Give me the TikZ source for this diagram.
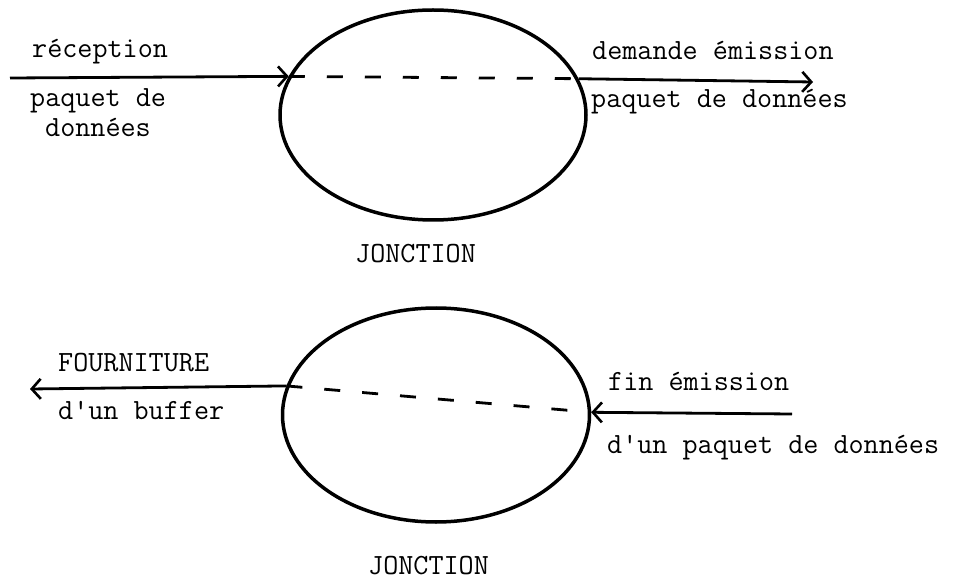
\documentclass[tikz,border=0pt]{standalone}
\usepackage{fontspec}
\usetikzlibrary{arrows.meta,shapes.geometric}

\tikzset{
  bulle/.style={draw,ellipse,line width=3.5pt,inner sep=0pt,minimum width=306pt,minimum height=210pt},
  flux/.style={line width=2.8pt,-{Straight Barb[length=9pt,width=20pt,line width=2.6pt]}},
  lien/.style={line width=2.8pt,dash pattern=on 16pt off 22pt},
  lbl/.style={font=\ttfamily\fontsize{29.3}{34}\selectfont,inner sep=0pt,anchor=base west}
}

\begin{document}
\begin{tikzpicture}[x=1pt,y=-1pt]
    \useasboundingbox (0,0) rectangle (959,580);

    % Top junction
    \node[bulle] (jhaut) at (433,115) {};
    \coordinate (entree) at (10,78);
    \coordinate (sortie) at (813,82);
    \draw[flux] (entree) -- (jhaut.165.5);
    \draw[flux] (jhaut.14.5) -- (sortie);
    \draw[lien] (jhaut.165.5) -- (jhaut.14.5);

    % Top labels
    \node[lbl] (recep) at (32,58) {réception};
    \node[lbl] (paqa) at (30,107) {paquet de};
    \node[lbl] (donna) at (45,137) {données};
    \node[lbl] (demande) at (592,60) {demande émission};
    \node[lbl] (paqb) at (591,108) {paquet de données};
    \node[lbl] (jona) at (355,263) {JONCTION};

    % Bottom junction
    \node[bulle,minimum width=307pt,minimum height=214pt] (jbas) at (436,415) {};
    \coordinate (fourni) at (30,389);
    \coordinate (finemi) at (792,414);
    \draw[flux] (jbas.169.7) -- (fourni);
    \draw[flux] (finemi) -- (jbas.1);
    \draw[lien] (jbas.169.7) -- (jbas.1);

    % Bottom labels
    \node[lbl] (fourn) at (58,371) {FOURNITURE};
    \node[lbl] (buffer) at (58,419) {d'un buffer};
    \node[lbl] (fin) at (608,390) {fin émission};
    \node[lbl] (dpaq) at (607,453) {d'un paquet de données};
    \node[lbl] (jonb) at (368,574) {JONCTION};
\end{tikzpicture}
\end{document}
